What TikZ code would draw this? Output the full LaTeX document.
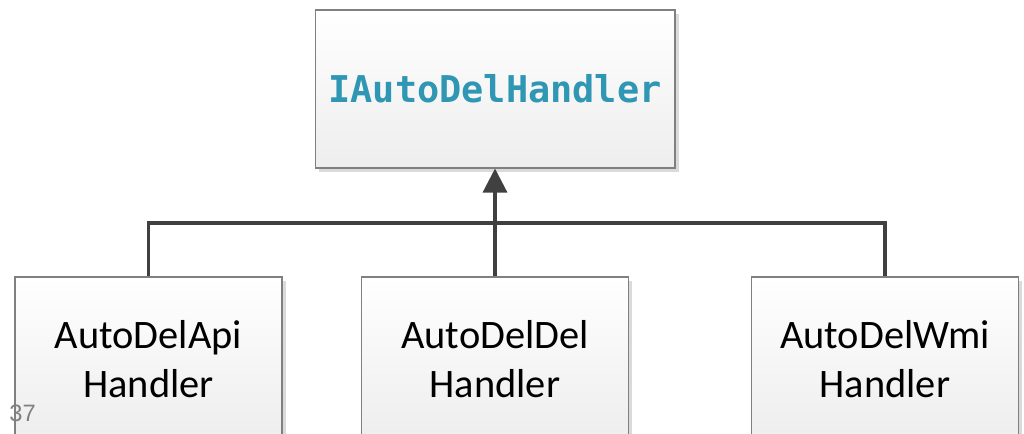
\documentclass[tikz,border=0pt]{standalone}
\usepackage{fontspec}
\setmainfont{Carlito}
\newfontfamily\codefont{DejaVu Sans Mono}
\newfontfamily\numfont{Liberation Sans}
\usetikzlibrary{arrows.meta,shadows}
\definecolor{ifacecol}{HTML}{2F96B4}
\definecolor{linecol}{HTML}{404040}
\definecolor{framecol}{HTML}{808080}
\definecolor{shadowcol}{HTML}{DADADA}
\begin{document}
\begin{tikzpicture}[x=0.02cm,y=-0.02cm,
  classbox/.style={draw=framecol, line width=0.6pt, top color=white, bottom color=black!7,
    drop shadow={shadow xshift=0.08cm, shadow yshift=-0.08cm, fill=shadowcol, opacity=1},
    inner sep=0pt, align=center},
  conn/.style={draw=linecol, line width=1.8pt},
  inherit/.style={conn, -{Triangle[width=0.48cm,length=0.48cm]}}]
  \useasboundingbox (0,0) rectangle (1024,433);
  \clip (0,0) rectangle (1024,433);

  % interface
  \node[classbox, minimum width=7.2cm, minimum height=3.16cm,
        font=\codefont\bfseries\fontsize{21pt}{25pt}\selectfont, text=ifacecol]
    (iface) at (495,89) {IAutoDelHandler};

  % implementations
  \tikzset{implbox/.style={classbox, minimum width=5.34cm, minimum height=3.28cm,
        font=\fontsize{23pt}{28.3pt}\selectfont}}
  \node[implbox] (api) at (148.5,359) {AutoDelApi\\Handler};
  \node[implbox] (del) at (495,359)   {AutoDelDel\\Handler};
  \node[implbox] (wmi) at (885,359)   {AutoDelWmi\\Handler};

  % inheritance connectors
  \coordinate (bus) at (495,223);
  \draw[conn] (api.north) |- (bus) -| (wmi.north);
  \draw[inherit] (del.north) -- (iface.south);

  % page number
  \node[anchor=base west, inner sep=0pt, text=framecol,
        font=\numfont\fontsize{13.5pt}{15pt}\selectfont] (pageno) at (9,421) {37};
\end{tikzpicture}
\end{document}
